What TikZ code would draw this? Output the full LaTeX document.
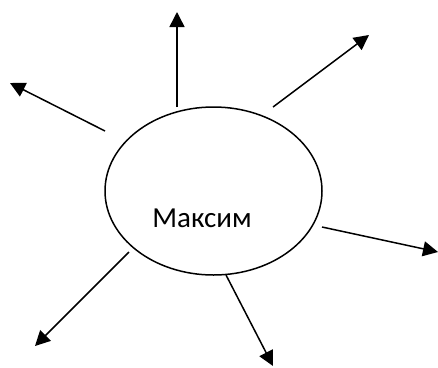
\documentclass[tikz,border=0pt]{standalone}
\usepackage{fontspec}
\setmainfont{Carlito}
\usetikzlibrary{arrows.meta,shapes.geometric}
\begin{document}
\begin{tikzpicture}[x=1pt,y=-1pt,
  ray/.style={line width=1.5pt,-{Triangle[length=15pt,width=15pt]}},
  blob/.style={draw,line width=1.5pt,ellipse,minimum width=217pt,minimum height=168pt,inner sep=0pt}]
\useasboundingbox (0,0) rectangle (438,367);
\node[blob] (e) at (213.5,191) {};
\node[anchor=base,font=\fontsize{29}{34}\selectfont,inner sep=0pt] (t) at (202,227) {Максим};
\coordinate (s1) at (177,107); \coordinate (e1) at (177,12);
\coordinate (s2) at (273,107); \coordinate (e2) at (369,35);
\coordinate (s3) at (105,131); \coordinate (e3) at (10,83);
\coordinate (s4) at (322,227); \coordinate (e4) at (438,252);
\coordinate (s5) at (129,252); \coordinate (e5) at (35,346);
\coordinate (s6) at (226,275); \coordinate (e6) at (273,366);
\foreach \i in {1,...,6} {\draw[ray] (s\i) -- (e\i);}
\end{tikzpicture}
\end{document}
